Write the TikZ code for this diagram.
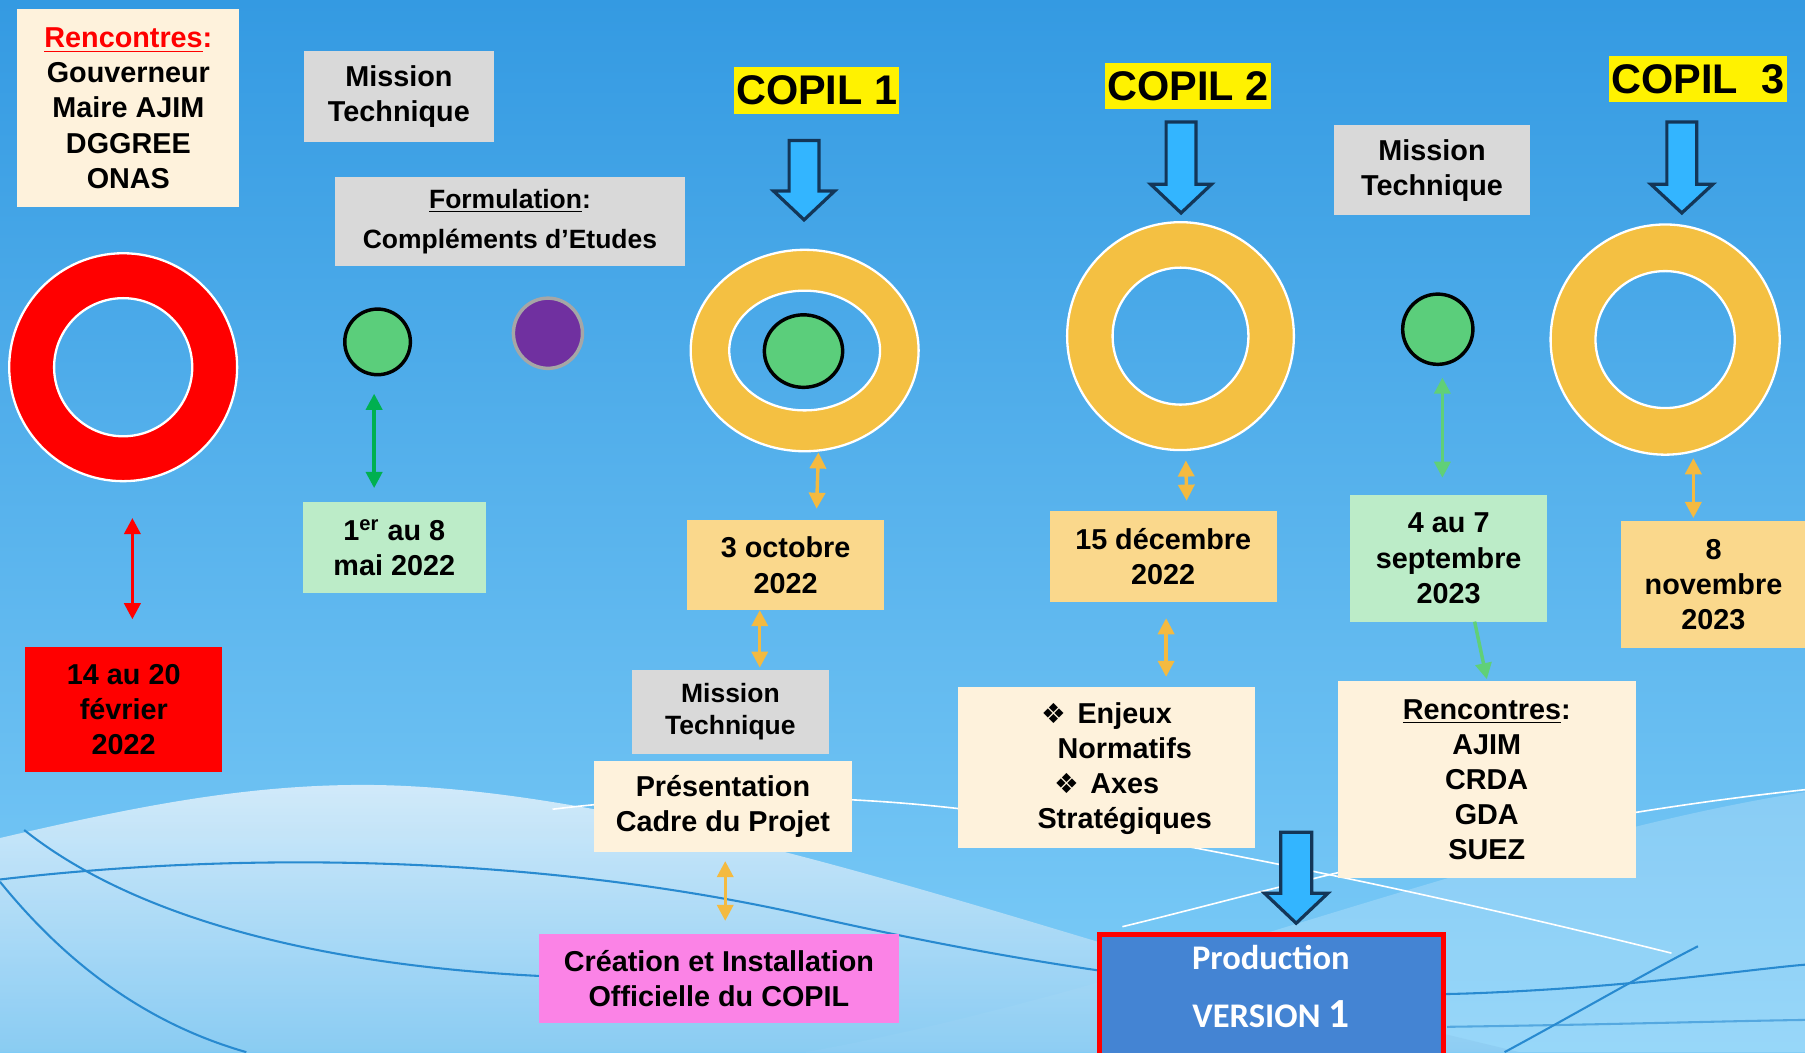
\documentclass[tikz,border=0pt]{standalone}
\usepackage{fontspec}
\setmainfont{Liberation Sans}
\newfontfamily\carlito{Carlito}
\newfontfamily\dejavu{DejaVu Sans}
\usetikzlibrary{shapes.geometric,arrows.meta,calc}

\definecolor{bgtop}{RGB}{52,154,226}
\definecolor{bgbot}{RGB}{126,205,248}
\definecolor{cream}{RGB}{254,242,220}
\definecolor{grayb}{RGB}{217,217,217}
\definecolor{dateor}{RGB}{250,216,140}
\definecolor{lgreen}{RGB}{188,236,200}
\definecolor{pinkb}{RGB}{251,131,230}
\definecolor{ringor}{RGB}{244,192,66}
\definecolor{arror}{RGB}{244,186,64}
\definecolor{dgreen}{RGB}{0,176,80}
\definecolor{mgreen}{RGB}{96,208,120}
\definecolor{dotgreen}{RGB}{91,206,123}
\definecolor{purp}{RGB}{112,48,160}
\definecolor{purpline}{RGB}{166,166,166}
\definecolor{prodblue}{RGB}{68,132,211}
\definecolor{barfill}{RGB}{51,181,255}
\definecolor{barline}{RGB}{19,54,88}
\definecolor{wavecol}{RGB}{40,138,208}
\definecolor{lighttop}{RGB}{228,242,252}
\definecolor{lightbot}{RGB}{140,204,242}

\newcommand\mainfs{\bfseries\fontsize{12.5}{15.25}\selectfont}
\newcommand\bullsym{{\dejavu\mdseries\fontsize{12}{12}\selectfont ❖}\hspace{5pt}}
\newcommand\blockarr[6]{% x, top, head, tip, shaft half, head half
  \draw[blockarrow] ({#1-#5},#2) -- ({#1+#5},#2) -- ({#1+#5},#3) -- ({#1+#6},#3)
    -- (#1,#4) -- ({#1-#6},#3) -- ({#1-#5},#3) -- cycle;}

\tikzset{
  box/.style={rectangle, inner sep=0pt, outer sep=0pt, align=center, text=black, font=\mainfs},
  sz/.style 2 args={minimum width=#1, minimum height=#2},
  copil/.style={rectangle, fill=yellow, inner sep=0pt, outer sep=0pt, text=black,
    font=\bfseries\fontsize{18}{20}\selectfont},
  dotnode/.style={ellipse, line width=1.5pt, inner sep=0pt, outer sep=0pt},
  ringline/.style={ellipse, draw=white, line width=1pt, inner sep=0pt, outer sep=0pt},
  prodbox/.style={rectangle, fill=prodblue, draw=red, line width=2pt, inner sep=0pt, outer sep=0pt},
  prodtext/.style={text=white, inner sep=0pt, font=\carlito\bfseries\fontsize{15}{18}\selectfont},
  dar/.style={line width=1.5pt, {Triangle[width=7pt,length=7pt]}-{Triangle[width=7pt,length=7pt]}},
  sar/.style={line width=1.5pt, -{Triangle[width=7pt,length=7pt]}},
  blockarrow/.style={fill=barfill, draw=barline, line width=1.4pt, line join=miter},
  waveline/.style={draw=wavecol, line width=0.9pt},
  whiteline/.style={draw=white, line width=0.7pt}
}

\begin{document}
\begin{tikzpicture}[x=0.5pt,y=-0.5pt]
\useasboundingbox (0,0) rectangle (1568,914);
\clip (0,0) rectangle (1568,914);

% ---------- background ----------
\shade[top color=bgtop, bottom color=bgbot] (0,0) rectangle (1568,914);
\fill[white, opacity=0.2]
  (700,914) .. controls (1000,860) and (1300,730) .. (1568,688) -- (1568,914) -- cycle;
\shade[top color=lighttop, bottom color=lightbot, opacity=0.85]
  (0,914) -- (0,728) .. controls (120,700) and (220,680) .. (330,682)
  .. controls (520,686) and (760,760) .. (960,820)
  .. controls (1080,856) and (1200,885) .. (1320,914) -- cycle;
\draw[waveline] (0,764) .. controls (250,735) and (500,750) .. (700,795)
  .. controls (900,840) and (1100,872) .. (1300,862) .. controls (1430,856) and (1520,842) .. (1568,838);
\draw[waveline] (21,721) .. controls (120,800) and (300,850) .. (560,850);
\draw[waveline] (0,766) .. controls (60,840) and (130,890) .. (214,914);
\draw[waveline] (1307,914) .. controls (1370,880) and (1430,845) .. (1475,822);
\draw[waveline, opacity=0.6] (1257,892) .. controls (1400,890) and (1500,887) .. (1568,886);
\draw[whiteline] (480,703) .. controls (600,688) and (760,688) .. (900,712)
  .. controls (1100,745) and (1300,790) .. (1452,828);
\draw[whiteline] (975,805) .. controls (1100,775) and (1300,715) .. (1568,686);

% ---------- rings ----------
\coordinate (r1c) at (107,319);
\fill[red, even odd rule] (r1c) ellipse [x radius=99, y radius=99] (r1c) ellipse [x radius=60, y radius=60];
\node[ringline, sz={99pt}{99pt}] (ring1) at (r1c) {};
\node[ringline, sz={60pt}{60pt}] (ring1in) at (r1c) {};

\coordinate (c1c) at (699,304.5);
\fill[ringor, even odd rule] (c1c) ellipse [x radius=99, y radius=87.5] (c1c) ellipse [x radius=65.5, y radius=52];
\node[ringline, sz={99pt}{87.5pt}] (rc1) at (c1c) {};
\node[ringline, sz={65.5pt}{52pt}] (rc1in) at (c1c) {};
\node[dotnode, fill=dotgreen, draw=black, sz={34pt}{31.5pt}] (g3) at (698,305) {};

\coordinate (c2c) at (1025.5,292);
\fill[ringor, even odd rule] (c2c) ellipse [x radius=98.5, y radius=99] (c2c) ellipse [x radius=59, y radius=59.5];
\node[ringline, sz={98.5pt}{99pt}] (rc2) at (c2c) {};
\node[ringline, sz={59pt}{59.5pt}] (rc2in) at (c2c) {};

\coordinate (c3c) at (1446.5,295);
\fill[ringor, even odd rule] (c3c) ellipse [x radius=99.5, y radius=100] (c3c) ellipse [x radius=60.5, y radius=59.5];
\node[ringline, sz={99.5pt}{100pt}] (rc3) at (c3c) {};
\node[ringline, sz={60.5pt}{59.5pt}] (rc3in) at (c3c) {};

% ---------- small dots ----------
\node[dotnode, fill=dotgreen, draw=black, sz={28.5pt}{28.5pt}] (g1) at (328,297) {};
\node[dotnode, fill=purp, draw=purpline, sz={30pt}{30.5pt}] (pu) at (476,289.5) {};
\node[dotnode, fill=dotgreen, draw=black, sz={30.5pt}{30.5pt}] (g2) at (1249,286) {};

% ---------- boxes ----------
\node[box, fill=cream, sz={96.5pt}{86pt}] (ren1) at (111.5,94)
  {{\color{red}\underline{Rencontres}:}\\Gouverneur\\Maire AJIM\\DGGREE\\ONAS};
\node[box, fill=red, sz={85.5pt}{54.5pt}] (feb) at (107.5,616.5) {14 au 20\\février\\2022};
\node[box, fill=grayb, sz={82.5pt}{39.5pt}] (mt1) at (346.5,83.5) {Mission\\Technique};
\node[box, fill=grayb, sz={152pt}{38.5pt}, font=\bfseries\fontsize{11.5}{17.5}\selectfont] (form) at (443,192.5)
  {\underline{Formulation}:\\Compléments d’Etudes};
\node[box, fill=lgreen, sz={79.5pt}{39.5pt}] (may) at (342.5,475.5) {1\textsuperscript{er} au 8\\mai 2022};
\node[copil, sz={71.5pt}{20.5pt}] (cp1) at (709.5,78.5) {COPIL 1};
\node[box, fill=dateor, sz={85.5pt}{39pt}] (oct) at (682.5,491) {3 octobre\\2022};
\node[box, fill=grayb, sz={85.5pt}{36.5pt}, font=\bfseries\fontsize{11.5}{14}\selectfont] (mt2) at (634.5,618.5) {Mission\\Technique};
\node[box, fill=cream, sz={112pt}{39.5pt}] (pres) at (628,700.5) {Présentation\\Cadre du Projet};
\node[box, fill=pinkb, sz={156.5pt}{39pt}] (crea) at (624.5,850) {Création et Installation\\Officielle du COPIL};
\node[copil, sz={72pt}{20pt}] (cp2) at (1032,75) {COPIL 2};
\node[box, fill=dateor, sz={98.5pt}{39.5pt}] (dec) at (1010.5,483.5) {15 décembre\\2022};
\node[box, fill=cream, sz={129pt}{70pt}] (enj) at (961,667) {};
\node[box] (enjtxt) at (977,667.5) {\llap{\bullsym}Enjeux\\Normatifs\\\llap{\bullsym}Axes\\Stratégiques};
\node[copil, sz={77pt}{20pt}] (cp3) at (1475,69) {COPIL\ \ 3};
\node[box, fill=grayb, sz={85pt}{39pt}] (mt3) at (1244,148) {Mission\\Technique};
\node[box, fill=lgreen, sz={85.5pt}{55pt}] (sep) at (1258.5,485) {4 au 7\\septembre\\2023};
\node[box, fill=cream, sz={129.5pt}{85.5pt}] (ren2) at (1291.5,677.5) {\underline{Rencontres}:\\AJIM\\CRDA\\GDA\\SUEZ};
\node[box, fill=dateor, sz={80.5pt}{55pt}] (nov) at (1488.5,508) {8\\novembre\\2023};

% production
\node[prodbox, sz={149.5pt}{53pt}] (prod) at (1104.5,865) {};
\node[prodtext] (prod1) at (1104,832) {Production};
\node[prodtext] (prod2) at (1104,881) {VERSION {\fontsize{18}{18}\selectfont 1}};

% ---------- block arrows ----------
\blockarr{698.5}{122}{166}{191}{13}{26.5}
\blockarr{1026}{106}{160}{185}{13}{26.5}
\blockarr{1461}{106}{160}{185}{13}{27}
\blockarr{1126}{723}{776}{802}{13.5}{27.5}

% ---------- connectors ----------
\draw[dar, red, shorten <=16pt, shorten >=12pt] ([xshift=4pt]ring1.south) -- ([xshift=4pt]ring1.south |- feb.north);
\draw[dar, dgreen, shorten <=8.25pt, shorten >=6pt] ([xshift=-1.5pt]g1.south) -- ([xshift=-1.5pt]g1.south |- may.north);
\draw[dar, arror, shorten <=0.5pt, shorten >=5pt] ([xshift=6pt]rc1.south) -- ([xshift=13.25pt]oct.north);
\draw[dar, arror, shorten >=1pt] ([xshift=-11.25pt]oct.south) -- ([xshift=-11.25pt]oct.south |- mt2.north);
\draw[dar, arror, shorten <=4pt, shorten >=5.5pt] ([xshift=1pt]pres.south) -- ([xshift=1pt]pres.south |- crea.north);
\draw[dar, arror, shorten <=4.5pt, shorten >=4.5pt] ([xshift=2.25pt]rc2.south) -- ([xshift=10.25pt]dec.north);
\draw[dar, arror, shorten <=7pt, shorten >=4.5pt] ([xshift=1.25pt]dec.south) -- ([xshift=1.25pt]dec.south |- enj.north);
\draw[dar, mgreen, shorten <=5.75pt, shorten >=7.5pt] ([xshift=2pt]g2.south) -- ([xshift=2pt]g2.south |- sep.north);
\draw[sar, mgreen, shorten >=1pt] ([xshift=11.25pt]sep.south) -- ([xshift=0.25pt]ren2.north);
\draw[dar, arror, shorten <=1.5pt, shorten >=1.5pt] ([xshift=12.25pt]rc3.south) -- ([xshift=12.25pt]rc3.south |- nov.north);
\end{tikzpicture}
\end{document}
